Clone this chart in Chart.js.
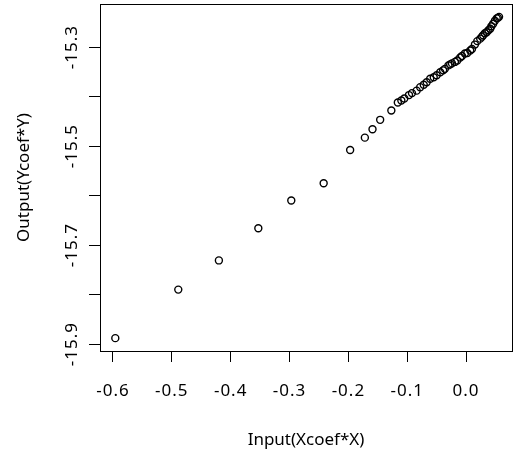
<!DOCTYPE html>
<html>
<head>
<meta charset="utf-8">
<script src="https://cdn.jsdelivr.net/npm/chart.js@4.4.0/dist/chart.umd.min.js"></script>
<style>
  html, body { margin: 0; padding: 0; background: #ffffff; }
  #wrap { width: 514px; height: 454px; }
</style>
</head>
<body>
<div id="wrap"><canvas id="chart" width="514" height="454"></canvas></div>
<script>
// 산점도 데이터
const xValues = [
  -0.596, -0.489, -0.420, -0.353, -0.297, -0.242, -0.197, -0.172, -0.159, -0.146,
  -0.127, -0.116, -0.110, -0.105, -0.097, -0.092, -0.084, -0.078, -0.072, -0.067,
  -0.061, -0.055, -0.050, -0.044, -0.039, -0.036, -0.030, -0.027, -0.024, -0.019,
  -0.015, -0.010, -0.007, -0.002, 0.002, 0.007, 0.010, 0.015, 0.019, 0.024,
  0.027, 0.029, 0.032, 0.035, 0.038, 0.041, 0.043, 0.046, 0.049, 0.052,
  0.054, 0.056
];
const yValues = [
  -15.888, -15.790, -15.731, -15.666, -15.610, -15.575, -15.508, -15.483, -15.466, -15.447,
  -15.428, -15.412, -15.408, -15.404, -15.397, -15.393, -15.388, -15.381, -15.376, -15.371,
  -15.364, -15.361, -15.357, -15.351, -15.347, -15.344, -15.337, -15.335, -15.333, -15.330,
  -15.327, -15.321, -15.318, -15.313, -15.312, -15.307, -15.304, -15.295, -15.288, -15.283,
  -15.279, -15.276, -15.272, -15.270, -15.266, -15.263, -15.258, -15.253, -15.247, -15.242,
  -15.241, -15.239
];

// 축 눈금
const xTickValues = [-0.6, -0.5, -0.4, -0.3, -0.2, -0.1, 0.0];
const xTickLabels = ['-0.6', '-0.5', '-0.4', '-0.3', '-0.2', '-0.1', '0.0'];
const yTickValues = [-15.9, -15.8, -15.7, -15.6, -15.5, -15.4, -15.3];
const yTickLabels = ['-15.9', '', '-15.7', '', '-15.5', '', '-15.3'];

const xTitle = 'Input(Xcoef*X)';
const yTitle = 'Output(Ycoef*Y)';

const FONT = "'Noto Sans', 'Open Sans', sans-serif";

// 플롯 영역 테두리 + 눈금 글자 간격
const boxPlugin = {
  id: 'box',
  beforeDraw(chart) {
    ['x', 'y'].forEach(id => {
      const s = chart.scales[id];
      if (s && !s._spaced) {
        const orig = s.drawLabels.bind(s);
        s.drawLabels = function (area) {
          const c = this.ctx;
          const prev = c.letterSpacing;
          c.letterSpacing = '1px';
          orig(area);
          c.letterSpacing = prev || '0px';
        };
        s._spaced = true;
      }
    });
  },
  afterDraw(chart) {
    const a = chart.chartArea;
    const ctx = chart.ctx;
    ctx.save();
    ctx.strokeStyle = '#000000';
    ctx.lineWidth = 1;
    ctx.strokeRect(Math.round(a.left) + 0.5, Math.round(a.top) + 0.5,
      Math.round(a.right - a.left), Math.round(a.bottom - a.top));
    ctx.restore();
  }
};

const points = xValues.map((x, i) => ({ x: x, y: yValues[i] }));

new Chart(document.getElementById('chart'), {
  type: 'scatter',
  data: {
    datasets: [{
      data: points,
      pointStyle: 'circle',
      pointRadius: 3.5,
      pointBorderWidth: 1.4,
      pointBorderColor: '#000000',
      pointBackgroundColor: 'rgba(255,255,255,0)'
    }]
  },
  options: {
    responsive: false,
    animation: false,
    layout: { autoPadding: false, padding: { top: 4, right: 2, left: 0, bottom: 0 } },
    plugins: {
      legend: { display: false },
      tooltip: { enabled: false }
    },
    scales: {
      x: {
        type: 'linear',
        min: -0.622,
        max: 0.078,
        afterBuildTicks: s => { s.ticks = xTickValues.map(v => ({ value: v })); },
        afterFit: s => { s.height = 103; s.paddingLeft = 0; s.paddingRight = 0; },
        ticks: {
          color: '#000000',
          font: { family: FONT, size: 17 },
          padding: 19,
          maxRotation: 0,
          callback: (v, i) => xTickLabels[i]
        },
        grid: { drawOnChartArea: false, drawTicks: true, tickLength: 11, color: '#000000', lineWidth: 1 },
        border: { display: false },
        title: {
          display: true,
          text: xTitle,
          color: '#000000',
          font: { family: FONT, size: 17 },
          padding: { top: 0, bottom: 4 }
        }
      },
      y: {
        type: 'linear',
        min: -15.914,
        max: -15.213,
        afterBuildTicks: s => { s.ticks = yTickValues.map(v => ({ value: v })); },
        afterFit: s => { s.width = 100; s.paddingTop = 0; s.paddingBottom = 0; },
        ticks: {
          color: '#000000',
          font: { family: FONT, size: 17 },
          minRotation: 90,
          maxRotation: 90,
          crossAlign: 'center',
          padding: -3,
          callback: (v, i) => yTickLabels[i]
        },
        grid: { drawOnChartArea: false, drawTicks: true, tickLength: 11, color: '#000000', lineWidth: 1 },
        border: { display: false },
        title: {
          display: true,
          text: yTitle,
          color: '#000000',
          font: { family: FONT, size: 17 },
          padding: { top: 14, bottom: 0 }
        }
      }
    }
  },
  plugins: [boxPlugin]
});
</script>
</body>
</html>
